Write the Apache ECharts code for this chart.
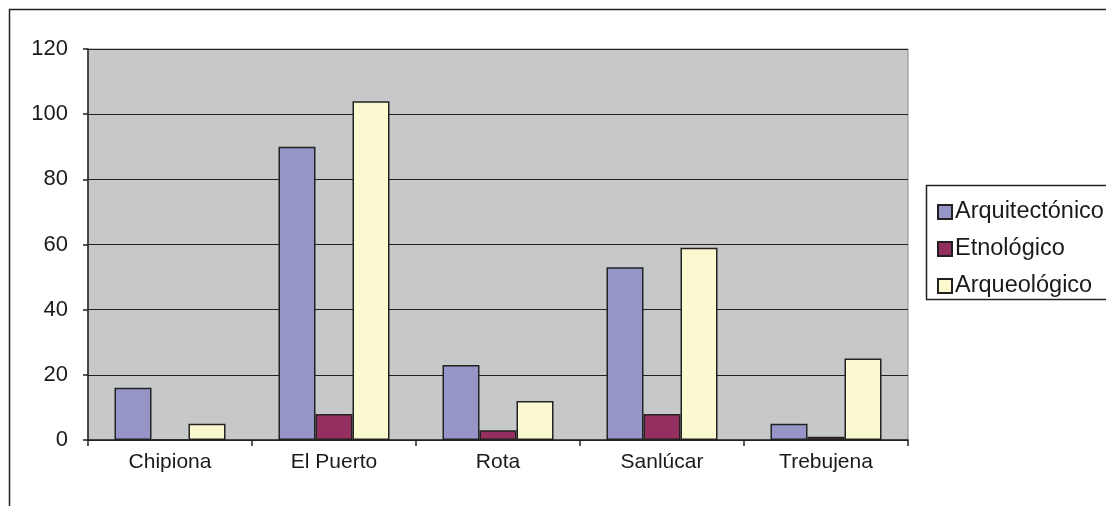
<!DOCTYPE html>
<html style="height: 100%">
<head>
    <meta charset="utf-8">
    <script src="https://cdn.jsdelivr.net/npm/echarts@6/dist/echarts.min.js"></script>
</head>
<body style="height: 100%; margin: 0; background: #fff">
    <div id="main" style="width: 1106px;height:506px;"></div>
    <script type="text/javascript">
        var pueblos = ['Chipiona', 'El Puerto', 'Rota', 'Sanlúcar', 'Trebujena'];
        var arquitectonico = [16, 90, 23, 53, 5];
        var etnologico = [0, 8, 3, 8, 1];
        var arqueologico = [5, 104, 12, 59, 25];
        var yTicks = { min: 0, max: 120, interval: 20 };

        var font = 'Liberation Sans, Arial, sans-serif';
        var barStyle = function (color) {
            return { color: color, borderColor: '#222', borderWidth: 1.5 };
        };

        var myChart = echarts.init(document.getElementById('main'));
        myChart.setOption({
            animation: false,
            textStyle: { fontFamily: font },
            graphic: [
                // outer chart frame
                { type: 'rect', shape: { x: 9.5, y: 9.5, width: 1200, height: 600 },
                  style: { fill: null, stroke: '#222', lineWidth: 1.5 }, z: 0 },
                // legend frame
                { type: 'rect', shape: { x: 926.5, y: 185.5, width: 200, height: 114 },
                  style: { fill: '#fff', stroke: '#222', lineWidth: 1.5 }, z: 0 }
            ],
            grid: {
                left: 88, right: 198, top: 49, bottom: 66,
                show: true, backgroundColor: '#c7c8ca',
                borderColor: '#8a8a8a', borderWidth: 1
            },
            legend: {
                orient: 'vertical',
                left: 932, top: 195,
                itemWidth: 14, itemHeight: 14, itemGap: 13,
                icon: 'rect',
                textStyle: { fontSize: 23.5, lineHeight: 24, color: '#1a1a1a', fontFamily: font, padding: [0, 0, 0, -2] },
                data: ['Arquitectónico', 'Etnológico', 'Arqueológico']
            },
            xAxis: {
                type: 'category',
                data: pueblos,
                axisLine: { lineStyle: { color: '#222', width: 1.5 } },
                axisTick: { show: true, length: 6, lineStyle: { color: '#222', width: 1.5 } },
                axisLabel: { color: '#1a1a1a', fontSize: 21, margin: 12 }
            },
            yAxis: {
                type: 'value',
                min: yTicks.min, max: yTicks.max, interval: yTicks.interval,
                axisLine: { show: true, lineStyle: { color: '#222', width: 1.5 } },
                axisTick: { show: true, length: 5, lineStyle: { color: '#222', width: 1.5 } },
                axisLabel: { color: '#1a1a1a', fontSize: 22, margin: 20 },
                splitLine: { lineStyle: { color: '#222', width: 1.2 } }
            },
            series: [{
                name: 'Arquitectónico',
                type: 'bar',
                data: arquitectonico,
                barWidth: 37,
                barGap: '0%',
                itemStyle: barStyle('#9595c8')
            }, {
                name: 'Etnológico',
                type: 'bar',
                data: etnologico,
                barWidth: 37,
                itemStyle: barStyle('#952f5f')
            }, {
                name: 'Arqueológico',
                type: 'bar',
                data: arqueologico,
                barWidth: 37,
                itemStyle: barStyle('#fbf9d0')
            }]
        });
    </script>
</body>
</html>
